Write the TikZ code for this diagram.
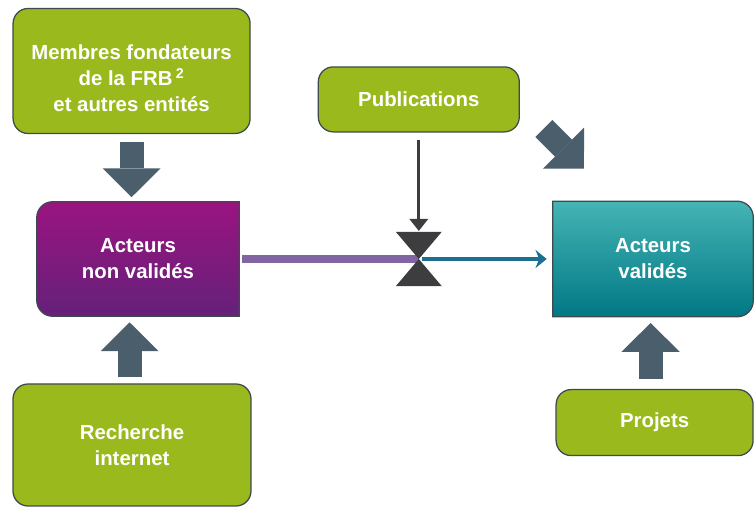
\documentclass[tikz,border=0pt]{standalone}
\usepackage{fontspec}
\setmainfont{Liberation Sans}
\usetikzlibrary{shapes.geometric,arrows,arrows.meta,backgrounds}
\definecolor{frbgreen}{HTML}{99B91C}
\definecolor{boxline}{HTML}{3F4A4F}
\definecolor{slate}{HTML}{4A5E6B}
\definecolor{nvtop}{HTML}{9A1480}
\definecolor{nvbottom}{HTML}{64217A}
\definecolor{valtop}{HTML}{45B4B4}
\definecolor{valmid}{HTML}{00A0A4}
\definecolor{valbottom}{HTML}{007885}
\definecolor{flowpurple}{HTML}{8165A3}
\definecolor{flowblue}{HTML}{1B6F90}
\definecolor{darkgrey}{HTML}{3D3D40}
\tikzstyle{greenbox}=[rectangle,rounded corners=0.375cm,inner sep=0pt,text centered,align=center,draw=boxline,line width=0.9pt,fill=frbgreen,text=white,font=\bfseries\fontsize{14.5}{18.5}\selectfont]
\tikzstyle{actorbox}=[rectangle,inner sep=0pt,text centered,align=center,text=white,font=\bfseries\fontsize{14.5}{18.5}\selectfont]
\tikzstyle{bigarrow}=[line width=0.6cm,draw=slate,-{Triangle[width=1.45cm,length=0.72cm,line width=0pt]}]
\tikzstyle{arrow}=[line width=0.075cm,draw=darkgrey,-{Triangle[width=0.45cm,length=0.3cm]}]
\tikzstyle{flow}=[line width=0.09cm,draw=flowblue,-{Stealth[width=0.45cm,length=0.28cm]}]
\begin{document}
\begin{tikzpicture}[node distance=4.7cm]
            \useasboundingbox (0,0) rectangle (18.85,12.675);
            \node (nv)[actorbox,minimum width=5.05cm,minimum height=2.85cm] at (3.45,6.2) {Acteurs\\non validés};
            \node (membres)[greenbox,above of=nv,xshift=-0.16cm,minimum width=5.925cm,minimum height=3.125cm]{\rule{0pt}{0.75cm}Membres fondateurs\\de la FRB\,\textsuperscript{2}\\et autres entités};
            \node (recherche)[greenbox,below of=nv,yshift=0.05cm,xshift=-0.15cm,minimum width=5.95cm,minimum height=3.05cm]{Recherche\\internet};
            \coordinate[right of=nv,xshift=2.32cm] (vanne);
            \node (pub)[greenbox,above of=vanne,yshift=-0.71cm,minimum width=5.025cm,minimum height=1.625cm]{Publications};
            \node (valides)[actorbox,right of=vanne,xshift=1.155cm,minimum width=5cm,minimum height=2.875cm]{Acteurs\\validés};
            \node (projets)[greenbox,below of=valides,yshift=0.61cm,xshift=0.04cm,minimum width=4.925cm,minimum height=1.65cm]{Projets};
            \begin{scope}[on background layer]
            \draw [draw=boxline,line width=0.9pt,top color=nvtop,bottom color=nvbottom] (nv.north east) -- (nv.south east) -- ([xshift=0.4cm]nv.south west) arc[start angle=270,end angle=180,radius=0.4cm] -- ([yshift=-0.4cm]nv.north west) arc[start angle=180,end angle=90,radius=0.4cm] -- cycle;
            \draw [draw=boxline,line width=0.9pt,top color=valtop,middle color=valmid,bottom color=valbottom] (valides.north west) -- (valides.south west) -- ([xshift=-0.4cm]valides.south east) arc[start angle=270,end angle=360,radius=0.4cm] -- ([yshift=-0.4cm]valides.north east) arc[start angle=0,end angle=90,radius=0.4cm] -- cycle;
            \end{scope}
            \draw [line width=0.22cm,draw=flowpurple] ([xshift=0.08cm]nv.east) -- (vanne);
            \fill [darkgrey] (vanne) -- ++(-0.575,0.68) -- ++(1.15,0) -- cycle;
            \fill [darkgrey] (vanne) -- ++(-0.575,-0.68) -- ++(1.15,0) -- cycle;
            \draw [flow] ([xshift=0.08cm]vanne) -- ([xshift=-0.15cm]valides.west);
            \draw [arrow] ([yshift=-0.18cm]pub.south) -- ([yshift=0.7cm]vanne);
            \draw [bigarrow] ([yshift=-0.2cm]membres.south) -- ++(0,-1.375);
            \draw [bigarrow] ([yshift=0.15cm,xshift=-0.06cm]recherche.north) -- ++(0,1.375);
            \draw [bigarrow] ([yshift=0.25cm,xshift=-0.1cm]projets.north) -- ++(0,1.4);
            \draw [bigarrow] ([xshift=0.6cm,yshift=0.1cm]pub.south east) -- ++(1,-1);
        \end{tikzpicture}
\end{document}
